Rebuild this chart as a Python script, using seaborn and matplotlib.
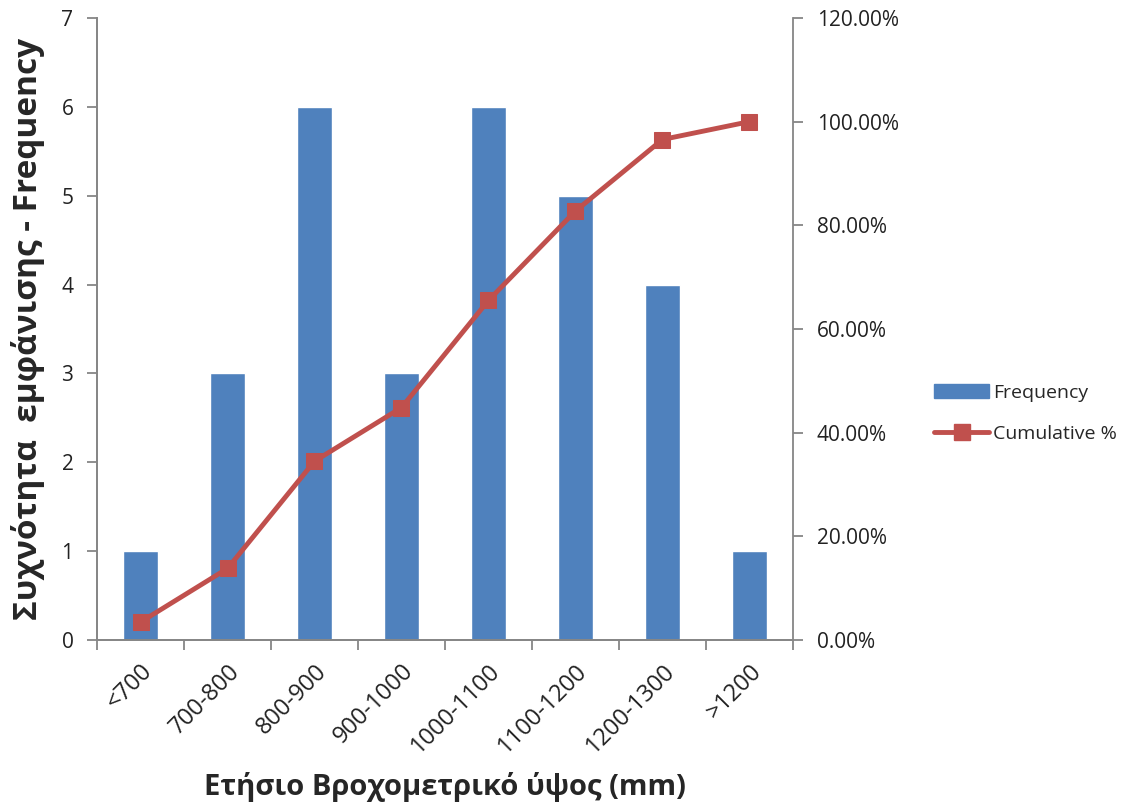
import numpy as np
import matplotlib
matplotlib.use("Agg")
import matplotlib.pyplot as plt
from matplotlib.ticker import FuncFormatter, MultipleLocator, FixedLocator
from matplotlib.patches import Patch
from matplotlib.lines import Line2D
import seaborn as sns

# Rainfall classes (mm) and how many years fall into each
categories = ["<700", "700-800", "800-900", "900-1000", "1000-1100",
              "1100-1200", "1200-1300", ">1200"]
frequency = [1, 3, 6, 3, 6, 5, 4, 1]
cumulative_pct = np.cumsum(frequency) / np.sum(frequency) * 100

BAR_COLOR = "#4F81BD"
LINE_COLOR = "#C0504D"
AXIS_COLOR = "#868686"
TEXT_COLOR = "#222222"

sns.set_theme(style="white")
plt.rcParams["font.family"] = ["Open Sans", "DejaVu Sans"]

fig = plt.figure(figsize=(11.32, 8.06), dpi=100)
ax = fig.add_axes([0.0857, 0.206, 0.6148, 0.7717])

sns.barplot(x=categories, y=frequency, color=BAR_COLOR, width=0.4,
            saturation=1, ax=ax)
ax.set_xlim(-0.5, len(categories) - 0.5)
ax.set_ylim(0, 7)
ax.yaxis.set_major_locator(MultipleLocator(1))

ax2 = ax.twinx()
sns.lineplot(x=np.arange(len(categories)), y=cumulative_pct, color=LINE_COLOR,
             linewidth=3.5, marker="s", markersize=12, markeredgecolor=LINE_COLOR,
             ax=ax2)
ax2.set_ylim(0, 120)
ax2.yaxis.set_major_locator(MultipleLocator(20))
ax2.yaxis.set_major_formatter(FuncFormatter(lambda v, p: f"{v:.2f}%"))
ax2.set_xlim(-0.5, len(categories) - 0.5)

# Category ticks: labels at centers, tick marks on the boundaries
ax.set_xticks(np.arange(len(categories)))
ax.set_xticklabels(categories, rotation=45, ha="right", rotation_mode="anchor",
                   fontsize=17, color=TEXT_COLOR)
ax.tick_params(axis="x", which="major", length=0, pad=14)
ax.xaxis.set_minor_locator(FixedLocator(np.arange(-0.5, len(categories), 1)))
ax.tick_params(axis="x", which="minor", length=7, width=1.3, color=AXIS_COLOR,
               direction="out", bottom=True)
ax.tick_params(axis="y", length=7, width=1.3, color=AXIS_COLOR, direction="out",
               left=True, labelsize=15, labelcolor=TEXT_COLOR, pad=10)
ax2.tick_params(axis="y", length=7, width=1.3, color=AXIS_COLOR, direction="out",
                right=True, labelsize=15, labelcolor=TEXT_COLOR, pad=10)

for a in (ax, ax2):
    a.spines["top"].set_visible(False)
    for s in ("left", "right", "bottom"):
        a.spines[s].set_color(AXIS_COLOR)
        a.spines[s].set_linewidth(1.3)
    a.grid(False)
ax.spines["right"].set_visible(False)

ax.set_xlabel("Ετήσιο Βροχομετρικό ύψος (mm)", fontsize=21, fontweight="bold",
              labelpad=10)
ax.set_ylabel("Συχνότητα  εμφάνισης - Frequency", fontsize=24, fontweight="bold",
              labelpad=12)
ax2.set_ylabel("")

handles = [Patch(facecolor=BAR_COLOR, edgecolor=BAR_COLOR),
           Line2D([0], [0], color=LINE_COLOR, linewidth=3.5, marker="s",
                  markersize=12)]
fig.legend(handles, ["Frequency", "Cumulative %"], loc="center left",
           bbox_to_anchor=(0.81, 0.487), frameon=False, fontsize=14,
           handlelength=2.8, labelspacing=1.2, handletextpad=0.2)

fig.savefig("out.png", dpi=100)
